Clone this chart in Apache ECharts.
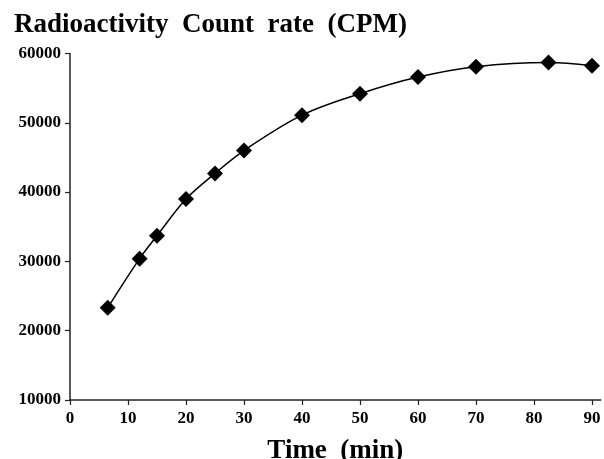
<!DOCTYPE html>
<html>
<head>
<meta charset="utf-8">
<script src="https://cdn.jsdelivr.net/npm/echarts@6/dist/echarts.min.js"></script>
<style>html,body{margin:0;padding:0;background:#fff;}#c{width:604px;height:459px;}</style>
</head>
<body>
<div id="c"></div>
<script>
var timeMin = [6.5, 12, 15, 20, 25, 30, 40, 50, 60, 70, 82.5, 90];
var countRate = [23300, 30400, 33700, 39000, 42700, 46000, 51100, 54200, 56600, 58100, 58700, 58250];
var xTicks = [0, 10, 20, 30, 40, 50, 60, 70, 80, 90];
var yTicks = [10000, 20000, 30000, 40000, 50000, 60000];
var titleText = 'Radioactivity  Count  rate  (CPM)';
var xName = 'Time  (min)';

var font = '"Liberation Serif", "Times New Roman", serif';
var chart = echarts.init(document.getElementById('c'), null, {renderer: 'canvas'});
chart.setOption({
  animation: false,
  backgroundColor: '#fff',
  title: {
    text: titleText,
    left: 9, top: 7,
    textStyle: {fontFamily: font, fontWeight: 'bold', fontSize: 27, color: '#000'}
  },
  grid: {left: 70, right: 3.3, top: 53.5, bottom: 59, containLabel: false, outerBoundsMode: 'none'},
  xAxis: {
    type: 'value', min: 0, max: 91.5,
    name: xName, nameLocation: 'middle', nameGap: 38,
    nameTextStyle: {fontFamily: font, fontWeight: 'bold', fontSize: 27, color: '#000'},
    axisLine: {show: true, onZero: false, lineStyle: {color: '#222', width: 1.5}},
    axisTick: {show: true, length: 5, lineStyle: {color: '#222', width: 1.2}, customValues: xTicks},
    axisLabel: {customValues: xTicks, margin: 10, fontFamily: font, fontWeight: 'bold', fontSize: 17, color: '#000'},
    splitLine: {show: false}
  },
  yAxis: {
    type: 'value', min: 10000, max: 60000, interval: 10000,
    axisLine: {show: true, onZero: false, lineStyle: {color: '#222', width: 1.5}},
    axisTick: {show: true, length: 5, lineStyle: {color: '#222', width: 1.2}, customValues: yTicks},
    axisLabel: {customValues: yTicks, margin: 9, fontFamily: font, fontWeight: 'bold', fontSize: 17, color: '#000',
      formatter: function (v) { return String(v); }},
    splitLine: {show: false}
  },
  series: [{
    type: 'line',
    data: timeMin.map(function (t, i) { return [t, countRate[i]]; }),
    smooth: 0.35,
    symbol: 'diamond',
    symbolSize: 16,
    itemStyle: {color: '#000'},
    lineStyle: {color: '#000', width: 1.5}
  }]
});
</script>
</body>
</html>
